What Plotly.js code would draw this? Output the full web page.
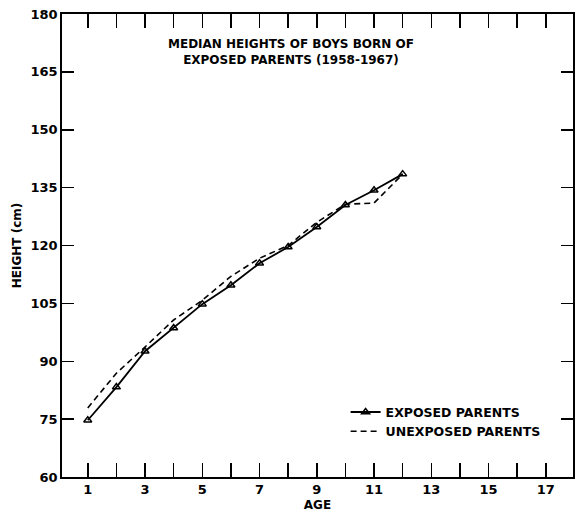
<!DOCTYPE html>
<html><head><meta charset="utf-8">
<script src="https://cdn.plot.ly/plotly-3.0.1.min.js"></script>
<style>html,body{margin:0;padding:0;background:#fff}</style>
</head><body>
<div id="chart" style="width:576px;height:514px"></div>
<script>
const ages = [1,2,3,4,5,6,7,8,9,10,11,12];
const exposedHeights = [74.7,83.3,92.6,98.6,104.8,109.7,115.4,119.6,124.8,130.5,134.3,138.5];
const unexposedHeights = [77.9,86.9,93.7,100.7,105.8,112.0,116.7,120.0,126.0,130.7,131.0,138.5];
const xTickVals = [1,3,5,7,9,11,13,15,17];
const yTickVals = [60,75,90,105,120,135,150,165,180];
const titleLines = ["MEDIAN HEIGHTS OF BOYS BORN OF","EXPOSED PARENTS (1958-1967)"];
const seriesNames = ["EXPOSED PARENTS","UNEXPOSED PARENTS"];

const fontFam = "DejaVu Sans, sans-serif";
const traces = [
  {x: ages, y: exposedHeights, name: seriesNames[0], mode: "lines+markers",
   line: {color: "#000", width: 1.8},
   marker: {symbol: "triangle-up-open", size: 7, color: "#000", line: {width: 1.5}}},
  {x: ages, y: unexposedHeights, name: seriesNames[1], mode: "lines",
   line: {color: "#000", width: 1.6, dash: "6px,4px"}}
];
const allTicks = [];
for (let i = 1; i <= 17; i++) allTicks.push(i);
const layout = {
  width: 576, height: 514,
  margin: {l: 62, r: 3, t: 14, b: 37},
  paper_bgcolor: "#fff", plot_bgcolor: "#fff",
  showlegend: true,
  legend: {x: 0.555, y: 0.172, xanchor: "left", yanchor: "top", bgcolor: "rgba(0,0,0,0)",
    font: {family: fontFam, size: 12.5, color: "#000", weight: 700}, tracegroupgap: 0},
  xaxis: {range: [0.1, 17.95], tickvals: xTickVals, ticktext: xTickVals.map(String),
    ticks: "inside", ticklen: 14, tickwidth: 1.5, tickcolor: "#000",
    showline: true, linecolor: "#000", linewidth: 1.8, mirror: "ticks",
    showgrid: false, zeroline: false,
    tickfont: {family: fontFam, size: 13, color: "#000", weight: 700},
    title: {text: "AGE", standoff: 4, font: {family: fontFam, size: 12, color: "#000", weight: 700}},
    minor: {tickvals: allTicks, ticks: "inside", ticklen: 14, tickwidth: 1.5, tickcolor: "#000"}},
  yaxis: {range: [60, 180], tickvals: yTickVals, ticktext: yTickVals.map(String),
    ticks: "inside", ticklen: 12, tickwidth: 1.5, tickcolor: "#000",
    showline: true, linecolor: "#000", linewidth: 1.8, mirror: "ticks",
    showgrid: false, zeroline: false,
    tickfont: {family: fontFam, size: 13, color: "#000", weight: 700},
    title: {text: "HEIGHT (cm)", standoff: 6, font: {family: fontFam, size: 12, color: "#000", weight: 700}}},
  annotations: [
    {xref: "paper", yref: "paper", x: 0.449, y: 0.955, xanchor: "center", yanchor: "top",
     text: titleLines.join("<br>"), showarrow: false,
     font: {family: fontFam, size: 12, color: "#000", weight: 700}}
  ]
};
Plotly.newPlot("chart", traces, layout, {displayModeBar: false, staticPlot: true});
</script>
</body></html>
